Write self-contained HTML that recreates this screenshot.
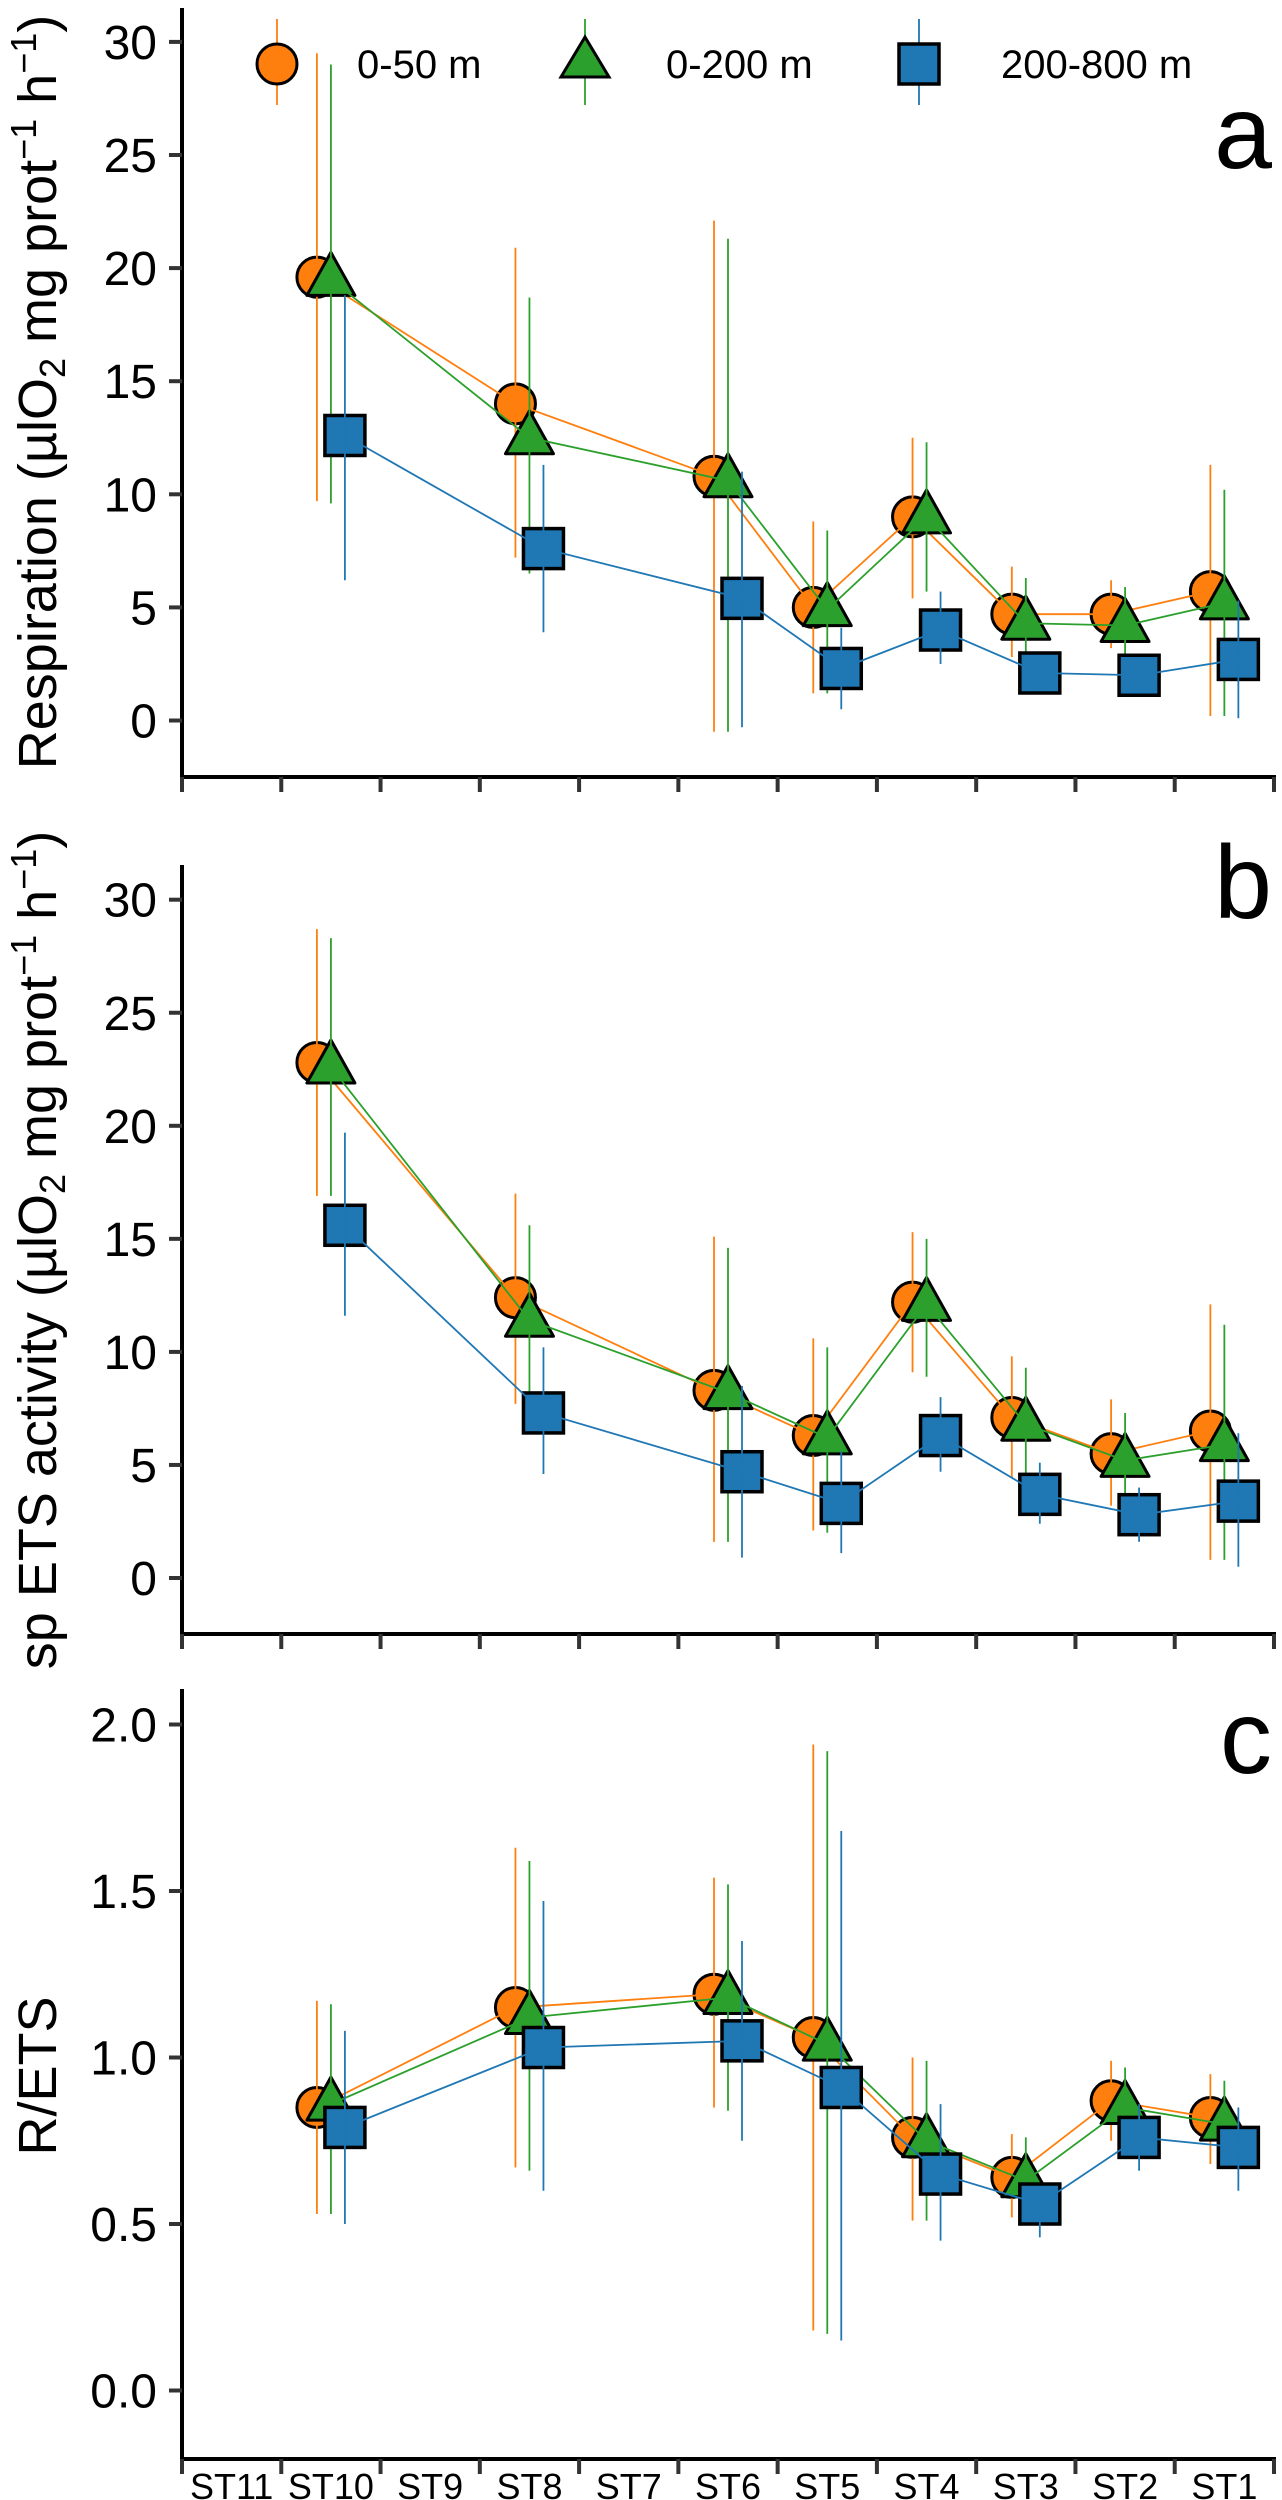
<!DOCTYPE html>
<html><head><meta charset="utf-8"><style>
html,body{margin:0;padding:0;background:#fff;}
svg{display:block;font-family:"Liberation Sans",Arial,sans-serif;}
</style></head><body>
<svg id="chart" width="1282" height="2500" viewBox="0 0 1282 2500" xmlns="http://www.w3.org/2000/svg"></svg>
<script>
const categories = ["ST11","ST10","ST9","ST8","ST7","ST6","ST5","ST4","ST3","ST2","ST1"];
const stations = ["ST10","ST8","ST6","ST5","ST4","ST3","ST2","ST1"];
const seriesNames = ["0-50 m","0-200 m","200-800 m"];
// Panel a: Respiration
const aOrange = [19.6,14.0,10.8,5.0,9.0,4.7,4.7,5.7];
const aOrangeLo = [9.7,7.2,-0.5,1.2,5.4,2.8,3.2,0.2];
const aOrangeHi = [29.5,20.9,22.1,8.8,12.5,6.8,6.2,11.3];
const aGreen = [19.5,12.5,10.6,4.9,9.0,4.3,4.2,5.2];
const aGreenLo = [9.6,6.5,-0.5,1.2,5.7,2.5,2.4,0.2];
const aGreenHi = [29.0,18.7,21.3,8.4,12.3,6.3,5.9,10.2];
const aBlue = [12.6,7.6,5.4,2.3,4.0,2.1,2.0,2.7];
const aBlueLo = [6.2,3.9,-0.3,0.5,2.5,1.3,1.3,0.1];
const aBlueHi = [18.8,11.3,11.0,4.1,5.7,2.8,2.8,5.3];
// Panel b: sp ETS activity
const bOrange = [22.8,12.4,8.3,6.3,12.2,7.1,5.5,6.5];
const bOrangeLo = [16.9,7.7,1.6,2.1,9.1,4.4,3.2,0.8];
const bOrangeHi = [28.7,17.0,15.1,10.6,15.3,9.8,7.9,12.1];
const bGreen = [22.6,11.4,8.2,6.2,12.1,6.8,5.2,5.9];
const bGreenLo = [16.9,7.2,1.6,2.0,8.9,4.3,3.0,0.8];
const bGreenHi = [28.3,15.6,14.6,10.2,15.0,9.3,7.3,11.2];
const bBlue = [15.6,7.3,4.7,3.3,6.3,3.7,2.8,3.4];
const bBlueLo = [11.6,4.6,0.9,1.1,4.7,2.4,1.6,0.5];
const bBlueHi = [19.7,10.2,8.5,5.6,8.0,5.1,4.0,6.4];
// Panel c: R/ETS
const cOrange = [0.85,1.15,1.19,1.06,0.76,0.64,0.87,0.82];
const cOrangeLo = [0.53,0.67,0.85,0.18,0.51,0.52,0.75,0.68];
const cOrangeHi = [1.17,1.63,1.54,1.94,1.00,0.77,0.99,0.95];
const cGreen = [0.86,1.12,1.18,1.04,0.75,0.63,0.85,0.80];
const cGreenLo = [0.53,0.66,0.84,0.17,0.51,0.52,0.72,0.68];
const cGreenHi = [1.16,1.59,1.52,1.92,0.99,0.76,0.97,0.93];
const cBlue = [0.79,1.03,1.05,0.91,0.65,0.56,0.76,0.73];
const cBlueLo = [0.50,0.60,0.75,0.15,0.45,0.46,0.66,0.60];
const cBlueHi = [1.08,1.47,1.35,1.68,0.86,0.61,0.86,0.85];
const aTicks = [0,5,10,15,20,25,30];
const bTicks = [0,5,10,15,20,25,30];
const cTicks = [0,0.5,1.0,1.5,2.0];
const cTickLabels = ["0.0","0.5","1.0","1.5","2.0"];

const NS="http://www.w3.org/2000/svg";
const svg=document.getElementById('chart');
function mk(tag,attrs,parent){const e=document.createElementNS(NS,tag);for(const k in attrs)e.setAttribute(k,attrs[k]);(parent||svg).appendChild(e);return e;}
const X0=182,X1=1274;
const bw=(X1-X0)/categories.length;
function xBand(name){return X0+(categories.indexOf(name)+0.5)*bw;}
const offsets=[-14,0,14];
const colors=["#ff7f0e","#2ca02c","#1f77b4"];

function panel(cfg){
  const g=mk('g',{});
  
  
  const y=v=>cfg.y0-v*cfg.k;
  const yax=mk('line',{x1:X0,x2:X0,y1:cfg.top,y2:cfg.bottom+2,stroke:'#000','stroke-width':4},g);
  
  const xax=mk('line',{x1:X0-2,x2:X1+2,y1:cfg.bottom,y2:cfg.bottom,stroke:'#000','stroke-width':4},g);
  
  cfg.ticks.forEach((t,i)=>{
    const tl=mk('line',{x1:X0-13,x2:X0,y1:y(t),y2:y(t),stroke:'#333','stroke-width':4},g);
    
    const tx=mk('text',{x:X0-25,y:y(t)+17,'text-anchor':'end','font-size':48,fill:'#000'},g);
    tx.textContent=cfg.tickLabels?cfg.tickLabels[i]:String(t);
    
  });
  for(let i=0;i<=categories.length;i++){
    const xx=X0+i*bw;
    const tl=mk('line',{x1:xx,x2:xx,y1:cfg.bottom,y2:cfg.bottom+15,stroke:'#333','stroke-width':4},g);
    
  }
  if(cfg.xlabels){
    categories.forEach(c=>{
      const t=mk('text',{x:xBand(c),y:cfg.bottom+40,'text-anchor':'middle','font-size':36,fill:'#000'},g);
      t.textContent=c;
      
    });
  }
  const tt=mk('text',{transform:`translate(56,${cfg.titleY}) rotate(-90)`,'text-anchor':'middle','font-size':54,fill:'#000'},g);
  tt.innerHTML=cfg.title;
  
  const pl=mk('text',{x:1272,y:cfg.labelY,'text-anchor':'end','font-size':104,fill:'#000'},g);
  pl.textContent=cfg.letter;
  
  cfg.series.forEach((s,si)=>{
    const col=colors[si];
    const xs=stations.map(st=>xBand(st)+offsets[si]);
    s.v.forEach((v,i)=>{
      const cx=xs[i],cy=y(v);let m;
      if(si===0){m=mk('circle',{cx:cx,cy:cy,r:20,fill:col,stroke:'#000','stroke-width':3},g);}
      else if(si===1){m=mk('polygon',{points:`${cx},${cy-27} ${cx-24},${cy+16} ${cx+24},${cy+16}`,fill:col,stroke:'#000','stroke-width':3,'stroke-linejoin':'round'},g);}
      else {m=mk('rect',{x:cx-20,y:cy-20,width:40,height:40,fill:col,stroke:'#000','stroke-width':3.5},g);}
      
      
    });
    const ln=mk('polyline',{points:s.v.map((v,i)=>xs[i]+','+y(v)).join(' '),fill:'none',stroke:col,'stroke-width':1.8},g);
    
    
    s.v.forEach((v,i)=>{
      const eb=mk('line',{x1:xs[i],x2:xs[i],y1:y(s.lo[i]),y2:y(s.hi[i]),stroke:col,'stroke-width':1.8},g);
      
      
    });
  });
}
const sub='<tspan baseline-shift="-9" font-size="36">2</tspan>';
const sup1='<tspan dy="-20" font-size="36">−1</tspan>';
panel({name:'panel-a-respiration',letter:'a',y0:720.5,k:22.62,top:8,bottom:777,labelY:168,ticks:aTicks,titleY:392,
  title:'Respiration (µlO'+sub+' mg prot'+sup1+'<tspan dy="20"> h</tspan>'+sup1+'<tspan dy="20">)</tspan>',
  series:[{id:'0-50',v:aOrange,lo:aOrangeLo,hi:aOrangeHi},{id:'0-200',v:aGreen,lo:aGreenLo,hi:aGreenHi},{id:'200-800',v:aBlue,lo:aBlueLo,hi:aBlueHi}]});
panel({name:'panel-b-ets',letter:'b',y0:1578,k:22.61,top:865,bottom:1634,labelY:918,ticks:bTicks,titleY:1250,
  title:'sp ETS activity (µlO'+sub+' mg prot'+sup1+'<tspan dy="20"> h</tspan>'+sup1+'<tspan dy="20">)</tspan>',
  series:[{id:'0-50',v:bOrange,lo:bOrangeLo,hi:bOrangeHi},{id:'0-200',v:bGreen,lo:bGreenLo,hi:bGreenHi},{id:'200-800',v:bBlue,lo:bBlueLo,hi:bBlueHi}]});
panel({name:'panel-c-ratio',letter:'c',y0:2390.5,k:333,top:1689,bottom:2459,labelY:1773,ticks:cTicks,tickLabels:cTickLabels,titleY:2076,xlabels:true,
  title:'R/ETS',
  series:[{id:'0-50',v:cOrange,lo:cOrangeLo,hi:cOrangeHi},{id:'0-200',v:cGreen,lo:cGreenLo,hi:cGreenHi},{id:'200-800',v:cBlue,lo:cBlueLo,hi:cBlueHi}]});
const legX=[277,585,919], legTX=[357,666,1001];
seriesNames.forEach((n,si)=>{
  const g=mk('g',{});
  
  
  const cx=legX[si],cy=64,col=colors[si];
  mk('line',{x1:cx,x2:cx,y1:19,y2:105,stroke:col,'stroke-width':1.8},g);
  if(si===0)mk('circle',{cx:cx,cy:cy,r:20,fill:col,stroke:'#000','stroke-width':3},g);
  else if(si===1)mk('polygon',{points:`${cx},${cy-27} ${cx-24},${cy+13} ${cx+24},${cy+13}`,fill:col,stroke:'#000','stroke-width':3},g);
  else mk('rect',{x:cx-20,y:cy-20,width:40,height:40,fill:col,stroke:'#000','stroke-width':3.5},g);
  const t=mk('text',{x:legTX[si],y:cy+14,'font-size':40,fill:'#000'},g);
  t.textContent=n;
});
</script>
</body></html>
